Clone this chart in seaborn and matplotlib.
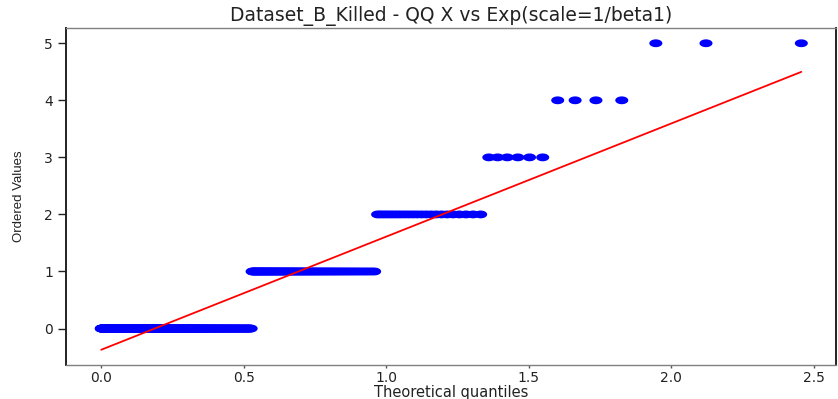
import numpy as np
import pandas as pd
import matplotlib
matplotlib.use("Agg")
import matplotlib.pyplot as plt
import seaborn as sns
from matplotlib.path import Path
from matplotlib.markers import MarkerStyle

# ---- data ----
values = [0, 1, 2, 3, 4, 5]          # distinct observed values
counts = [352, 79, 23, 6, 4, 3]      # number of observations at each value
scale = 0.377                        # scale = 1/beta1 of the exponential

title = "Dataset_B_Killed - QQ X vs Exp(scale=1/beta1)"
xlabel = "Theoretical quantiles"
ylabel = "Ordered Values"
xticks = [0.0, 0.5, 1.0, 1.5, 2.0, 2.5]
yticks = [0, 1, 2, 3, 4, 5]

# ---- QQ computation (Filliben plotting positions, exponential quantiles) ----
ordered = np.repeat(values, counts).astype(float)
n = len(ordered)
i = np.arange(1, n + 1)
p = (i - 0.3175) / (n + 0.365)
p[-1] = 0.5 ** (1.0 / n)
p[0] = 1 - p[-1]
theo = -scale * np.log1p(-p)
slope, intercept = np.polyfit(theo, ordered, 1)

df = pd.DataFrame({"theo": theo, "ordered": ordered})
line_x = np.array([theo.min(), theo.max()])
line_df = pd.DataFrame({"x": line_x, "y": intercept + slope * line_x})

sns.set_style("ticks")
plt.rcParams["font.family"] = ["DejaVu Sans"]

fig = plt.figure(figsize=(8.38, 3.99), dpi=100)
ax = fig.add_axes([0.079, 0.085, 0.919, 0.845])

theta = np.linspace(0, 2 * np.pi, 64)
ell = MarkerStyle(Path(np.column_stack([np.cos(theta), 0.6 * np.sin(theta)])))

sns.scatterplot(data=df, x="theo", y="ordered", ax=ax, marker=ell, s=88,
                color="#0000ff", edgecolor="none", linewidth=0, zorder=2)
sns.lineplot(data=line_df, x="x", y="y", ax=ax, color="#ff0000", linewidth=1.3,
             zorder=3)

ax.margins(x=0.05, y=0.05)
ax.set_xticks(xticks)
ax.set_yticks(yticks)
ax.set_xticklabels([f"{t:.1f}" for t in xticks])
ax.set_yticklabels([str(t) for t in yticks])
ax.tick_params(axis="y", labelsize=10, colors="#222222", length=6, width=1, pad=3.5)
ax.tick_params(axis="x", labelsize=10, colors="#555555", labelcolor="#222222",
               length=2.5, width=1, pad=1.5)

ax.set_title(title, fontsize=13.5, color="#222222", pad=5)
ax.set_xlabel(xlabel, fontsize=10.5, color="#222222", labelpad=0)
ax.set_ylabel(ylabel, fontsize=9.5, color="#222222", labelpad=14,
              family=["Liberation Sans", "DejaVu Sans"])

for side in ["left", "right"]:
    ax.spines[side].set_color("#222222")
    ax.spines[side].set_linewidth(1.4)
for side in ["top", "bottom"]:
    ax.spines[side].set_color("#808080")
    ax.spines[side].set_linewidth(1.0)
ax.grid(False)

fig.savefig("out.png", dpi=100)
